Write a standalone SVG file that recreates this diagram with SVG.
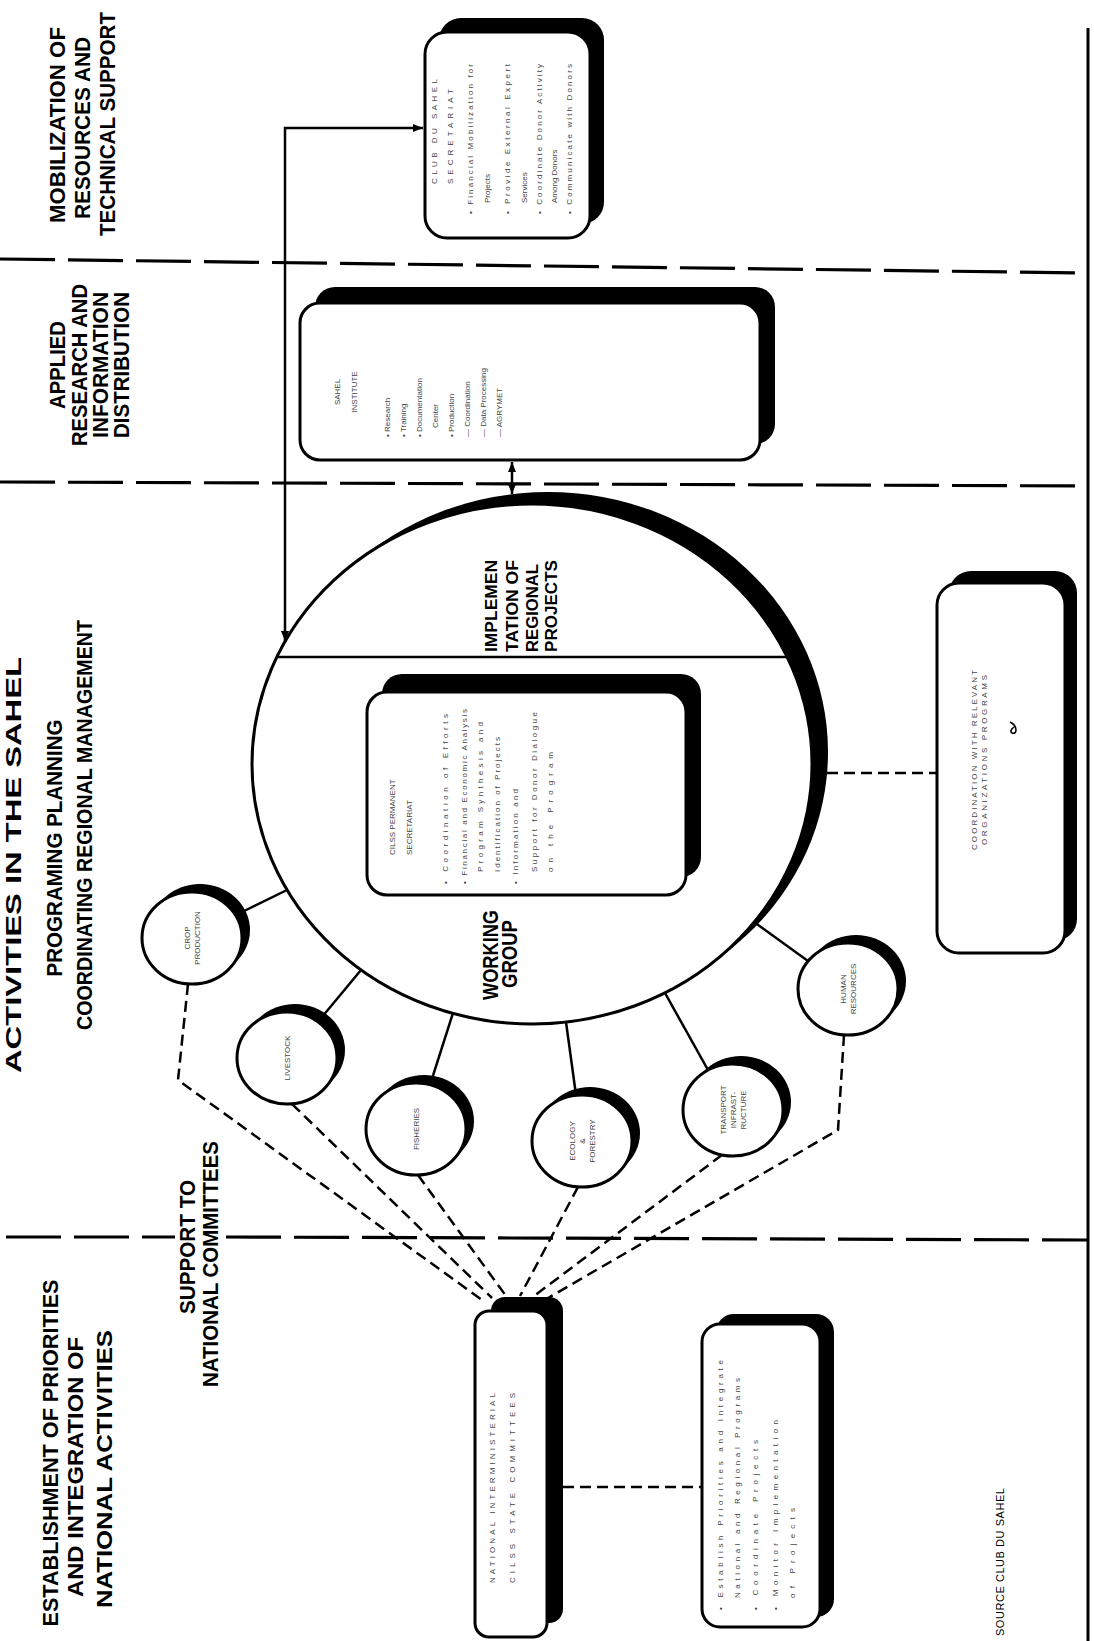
<svg xmlns="http://www.w3.org/2000/svg" width="1094" height="1641" viewBox="0 0 1094 1641">
<style>
.hd{font-family:"Liberation Sans",Arial,Helvetica,sans-serif;font-weight:bold;font-size:22px;fill:#000}
.mid{font-family:"Liberation Sans",Arial,Helvetica,sans-serif;font-weight:bold;font-size:17px;fill:#000}
.sm{font-family:"Liberation Sans",Arial,Helvetica,sans-serif;font-size:8px;fill:#444}
.src{font-family:"Liberation Sans",Arial,Helvetica,sans-serif;font-size:11px;fill:#000}
.sh{fill:#000}
.bx{fill:#fff;stroke:#000;stroke-width:3}
.div{stroke:#000;stroke-width:3.2;fill:none;stroke-dasharray:55 13}
.sol{stroke:#000;stroke-width:2.5;fill:none}
.dsh{stroke:#000;stroke-width:2.5;fill:none;stroke-dasharray:11 6}
</style>
<defs>
<marker id="ah" viewBox="0 0 10 8" refX="10" refY="4" markerWidth="10" markerHeight="8" markerUnits="userSpaceOnUse" orient="auto-start-reverse">
<path d="M0,0 L10,4 L0,8 z" fill="#000"/>
</marker>
</defs>
<rect width="1094" height="1641" fill="#fff"/>

<g id="frame">
<line x1="0" y1="259" x2="1088" y2="273" class="div"/>
<line x1="0" y1="482" x2="1088" y2="486" class="div"/>
<line x1="6" y1="1237" x2="175" y2="1237" class="div"/>
<line x1="226" y1="1237" x2="1088" y2="1240" class="div"/>
<line x1="1088" y1="28" x2="1088" y2="1641" stroke="#000" stroke-width="3"/>
</g>

<g id="headers">
<text class="hd" font-size="28" transform="translate(21 865) rotate(-90)" text-anchor="middle" textLength="416" lengthAdjust="spacingAndGlyphs">ACTIVITIES IN THE SAHEL</text>
<text class="hd" transform="translate(62 848) rotate(-90)" text-anchor="middle" textLength="257" lengthAdjust="spacingAndGlyphs">PROGRAMING PLANNING</text>
<text class="hd" transform="translate(92 825) rotate(-90)" text-anchor="middle" textLength="410" lengthAdjust="spacingAndGlyphs">COORDINATING REGIONAL MANAGEMENT</text>
<text class="hd" transform="translate(58 1453) rotate(-90)" text-anchor="middle" textLength="347" lengthAdjust="spacingAndGlyphs">ESTABLISHMENT OF PRIORITIES</text>
<text class="hd" transform="translate(83 1467) rotate(-90)" text-anchor="middle" textLength="260" lengthAdjust="spacingAndGlyphs">AND INTEGRATION OF</text>
<text class="hd" transform="translate(112 1469) rotate(-90)" text-anchor="middle" textLength="278" lengthAdjust="spacingAndGlyphs">NATIONAL ACTIVITIES</text>
<text class="hd" transform="translate(195 1247) rotate(-90)" text-anchor="middle" textLength="134" lengthAdjust="spacingAndGlyphs">SUPPORT TO</text>
<text class="hd" transform="translate(218 1264) rotate(-90)" text-anchor="middle" textLength="246" lengthAdjust="spacingAndGlyphs">NATIONAL COMMITTEES</text>
<text class="hd" transform="translate(65 365) rotate(-90)" text-anchor="middle" textLength="88" lengthAdjust="spacingAndGlyphs">APPLIED</text>
<text class="hd" transform="translate(87 365) rotate(-90)" text-anchor="middle" textLength="162" lengthAdjust="spacingAndGlyphs">RESEARCH AND</text>
<text class="hd" transform="translate(108 365) rotate(-90)" text-anchor="middle" textLength="146" lengthAdjust="spacingAndGlyphs">INFORMATION</text>
<text class="hd" transform="translate(129 365) rotate(-90)" text-anchor="middle" textLength="146" lengthAdjust="spacingAndGlyphs">DISTRIBUTION</text>
<text class="hd" transform="translate(65 125) rotate(-90)" text-anchor="middle" textLength="196" lengthAdjust="spacingAndGlyphs">MOBILIZATION OF</text>
<text class="hd" transform="translate(90 128) rotate(-90)" text-anchor="middle" textLength="182" lengthAdjust="spacingAndGlyphs">RESOURCES AND</text>
<text class="hd" transform="translate(115 124) rotate(-90)" text-anchor="middle" textLength="224" lengthAdjust="spacingAndGlyphs">TECHNICAL SUPPORT</text>
<text class="src" transform="translate(1004 1636) rotate(-90)" textLength="148" lengthAdjust="spacing">SOURCE  CLUB DU SAHEL</text>
</g>

<g id="connectors">
<path d="M287 890 L238 914" class="sol"/>
<path d="M361 970 L322 1017" class="sol"/>
<path d="M453 1013 L430 1085" class="sol"/>
<path d="M566 1022 L576 1095" class="sol"/>
<path d="M665 993 L708 1070" class="sol"/>
<path d="M754 922 L808 961" class="sol"/>
<path d="M188 984 L178 1080 L482 1300" class="dsh"/>
<path d="M292 1104 L492 1298" class="dsh"/>
<path d="M418 1175 L506 1296" class="dsh"/>
<path d="M578 1187 L520 1296" class="dsh"/>
<path d="M722 1155 L534 1296" class="dsh"/>
<path d="M844 1035 L838 1130 L548 1298" class="dsh"/>
<path d="M810 773 L937 773" class="dsh"/>
<path d="M563 1487 L702 1487" class="dsh"/>
<path d="M423 128 L285 128 L285 641" class="sol" marker-start="url(#ah)" marker-end="url(#ah)"/>
<path d="M512 462 L512 494" class="sol" marker-start="url(#ah)" marker-end="url(#ah)"/>
</g>

<g id="working-group">
<ellipse cx="548" cy="752" rx="280" ry="260" class="sh"/>
<ellipse cx="532" cy="764" rx="280" ry="260" class="bx"/>
<line x1="277" y1="657" x2="788" y2="657" stroke="#000" stroke-width="2.5"/>
<text class="hd" font-size="19" transform="translate(498 955) rotate(-90)" text-anchor="middle" textLength="90" lengthAdjust="spacingAndGlyphs">WORKING</text>
<text class="hd" font-size="19" transform="translate(517 954) rotate(-90)" text-anchor="middle" textLength="68" lengthAdjust="spacingAndGlyphs">GROUP</text>
<text class="mid" transform="translate(497 652) rotate(-90)" textLength="92" lengthAdjust="spacingAndGlyphs">IMPLEMEN</text>
<text class="mid" transform="translate(518 652) rotate(-90)" textLength="92" lengthAdjust="spacingAndGlyphs">TATION OF</text>
<text class="mid" transform="translate(538 652) rotate(-90)" textLength="88" lengthAdjust="spacingAndGlyphs">REGIONAL</text>
<text class="mid" transform="translate(557 652) rotate(-90)" textLength="92" lengthAdjust="spacingAndGlyphs">PROJECTS</text>
</g>

<g id="cilss-secretariat">
<rect x="382" y="674" width="319" height="203" rx="20" class="sh"/>
<rect x="367" y="692" width="319" height="203" rx="20" class="bx"/>
<text class="sm" transform="translate(395 855) rotate(-90)">CILSS PERMANENT</text>
<text class="sm" transform="translate(412 855) rotate(-90)">SECRETARIAT</text>
<text class="sm" transform="translate(448 884) rotate(-90)" textLength="170" lengthAdjust="spacing">• Coordination of Efforts</text>
<text class="sm" transform="translate(467 884) rotate(-90)" textLength="175" lengthAdjust="spacing">• Financial and Economic Analysis</text>
<text class="sm" transform="translate(483 872) rotate(-90)" textLength="150" lengthAdjust="spacing">Program Synthesis and</text>
<text class="sm" transform="translate(500 872) rotate(-90)" textLength="135" lengthAdjust="spacing">Identification of Projects</text>
<text class="sm" transform="translate(518 884) rotate(-90)" textLength="95" lengthAdjust="spacing">• Information and</text>
<text class="sm" transform="translate(537 872) rotate(-90)" textLength="160" lengthAdjust="spacing">Support for Donor Dialogue</text>
<text class="sm" transform="translate(553 872) rotate(-90)" textLength="120" lengthAdjust="spacing">on the Program</text>
</g>

<g id="club-du-sahel">
<rect x="439" y="18" width="165" height="206" rx="22" class="sh"/>
<rect x="425" y="32" width="165" height="206" rx="22" class="bx"/>
<text class="sm" transform="translate(437 184) rotate(-90)" textLength="105" lengthAdjust="spacing">CLUB DU SAHEL</text>
<text class="sm" transform="translate(453 184) rotate(-90)" textLength="95" lengthAdjust="spacing">SECRETARIAT</text>
<text class="sm" transform="translate(473 214) rotate(-90)" textLength="150" lengthAdjust="spacing">• Financial Mobilization for</text>
<text class="sm" transform="translate(490 203) rotate(-90)">Projects</text>
<text class="sm" transform="translate(510 214) rotate(-90)" textLength="150" lengthAdjust="spacing">• Provide External Expert</text>
<text class="sm" transform="translate(527 203) rotate(-90)">Services</text>
<text class="sm" transform="translate(542 214) rotate(-90)" textLength="150" lengthAdjust="spacing">• Coordinate Donor Activity</text>
<text class="sm" transform="translate(557 203) rotate(-90)">Among Donors</text>
<text class="sm" transform="translate(572 214) rotate(-90)" textLength="150" lengthAdjust="spacing">• Communicate with Donors</text>
</g>

<g id="sahel-institute">
<rect x="315" y="287" width="460" height="157" rx="20" class="sh"/>
<rect x="300" y="303" width="460" height="157" rx="20" class="bx"/>
<text class="sm" transform="translate(340 392) rotate(-90)" text-anchor="middle">SAHEL</text>
<text class="sm" transform="translate(357 392) rotate(-90)" text-anchor="middle">INSTITUTE</text>
<text class="sm" transform="translate(390 437) rotate(-90)">• Research</text>
<text class="sm" transform="translate(406 437) rotate(-90)">• Training</text>
<text class="sm" transform="translate(422 437) rotate(-90)">• Documentation</text>
<text class="sm" transform="translate(438 428) rotate(-90)">Center</text>
<text class="sm" transform="translate(454 437) rotate(-90)">• Production</text>
<text class="sm" transform="translate(470 437) rotate(-90)">— Coordination</text>
<text class="sm" transform="translate(486 437) rotate(-90)">— Data Processing</text>
<text class="sm" transform="translate(502 437) rotate(-90)">— AGRYMET</text>
</g>

<g id="coordination">
<rect x="949" y="571" width="128" height="370" rx="22" class="sh"/>
<rect x="937" y="583" width="128" height="370" rx="22" class="bx"/>
<text class="sm" transform="translate(977 760) rotate(-90)" text-anchor="middle" textLength="180" lengthAdjust="spacing">COORDINATION WITH RELEVANT</text>
<text class="sm" transform="translate(987 760) rotate(-90)" text-anchor="middle" textLength="170" lengthAdjust="spacing">ORGANIZATIONS PROGRAMS</text>
<path d="M1010 722 q6 3 6 8 q0 4 -4 3 q-3 -2 2 -6" fill="none" stroke="#000" stroke-width="1.6"/>
</g>

<g id="national-committees">
<rect x="491" y="1297" width="72" height="326" rx="14" class="sh"/>
<rect x="475" y="1311" width="72" height="326" rx="14" class="bx"/>
<text class="sm" transform="translate(495 1583) rotate(-90)" textLength="190" lengthAdjust="spacing">NATIONAL INTERMINISTERIAL</text>
<text class="sm" transform="translate(515 1583) rotate(-90)" textLength="190" lengthAdjust="spacing">CILSS STATE COMMITTEES</text>
</g>

<g id="national-tasks">
<rect x="716" y="1314" width="118" height="303" rx="18" class="sh"/>
<rect x="702" y="1324" width="118" height="303" rx="18" class="bx"/>
<text class="sm" transform="translate(723 1610) rotate(-90)" textLength="250" lengthAdjust="spacing">• Establish Priorities and Integrate</text>
<text class="sm" transform="translate(740 1598) rotate(-90)" textLength="220" lengthAdjust="spacing">National and Regional Programs</text>
<text class="sm" transform="translate(758 1610) rotate(-90)" textLength="170" lengthAdjust="spacing">• Coordinate Projects</text>
<text class="sm" transform="translate(778 1610) rotate(-90)" textLength="190" lengthAdjust="spacing">• Monitor Implementation</text>
<text class="sm" transform="translate(795 1598) rotate(-90)" textLength="90" lengthAdjust="spacing">of Projects</text>
</g>

<g id="crop-production">
<ellipse cx="200" cy="930" rx="50" ry="46" class="sh"/>
<ellipse cx="192" cy="938" rx="50" ry="46" class="bx"/>
<text class="sm" transform="translate(190 938) rotate(-90)" text-anchor="middle">CROP</text>
<text class="sm" transform="translate(200 938) rotate(-90)" text-anchor="middle">PRODUCTION</text>
</g>
<g id="livestock">
<ellipse cx="295" cy="1050" rx="50" ry="46" class="sh"/>
<ellipse cx="287" cy="1058" rx="50" ry="46" class="bx"/>
<text class="sm" transform="translate(290 1058) rotate(-90)" text-anchor="middle">LIVESTOCK</text>
</g>
<g id="fisheries">
<ellipse cx="424" cy="1121" rx="50" ry="46" class="sh"/>
<ellipse cx="416" cy="1129" rx="50" ry="46" class="bx"/>
<text class="sm" transform="translate(419 1129) rotate(-90)" text-anchor="middle">FISHERIES</text>
</g>
<g id="ecology-forestry">
<ellipse cx="590" cy="1133" rx="50" ry="46" class="sh"/>
<ellipse cx="582" cy="1141" rx="50" ry="46" class="bx"/>
<text class="sm" transform="translate(575 1141) rotate(-90)" text-anchor="middle">ECOLOGY</text>
<text class="sm" transform="translate(585 1141) rotate(-90)" text-anchor="middle">&amp;</text>
<text class="sm" transform="translate(595 1141) rotate(-90)" text-anchor="middle">FORESTRY</text>
</g>
<g id="transport">
<ellipse cx="741" cy="1102" rx="50" ry="46" class="sh"/>
<ellipse cx="733" cy="1110" rx="50" ry="46" class="bx"/>
<text class="sm" transform="translate(726 1110) rotate(-90)" text-anchor="middle">TRANSPORT</text>
<text class="sm" transform="translate(736 1110) rotate(-90)" text-anchor="middle">INFRAST-</text>
<text class="sm" transform="translate(746 1110) rotate(-90)" text-anchor="middle">RUCTURE</text>
</g>
<g id="human-resources">
<ellipse cx="856" cy="981" rx="50" ry="46" class="sh"/>
<ellipse cx="848" cy="989" rx="50" ry="46" class="bx"/>
<text class="sm" transform="translate(846 989) rotate(-90)" text-anchor="middle">HUMAN</text>
<text class="sm" transform="translate(856 989) rotate(-90)" text-anchor="middle">RESOURCES</text>
</g>
</svg>
